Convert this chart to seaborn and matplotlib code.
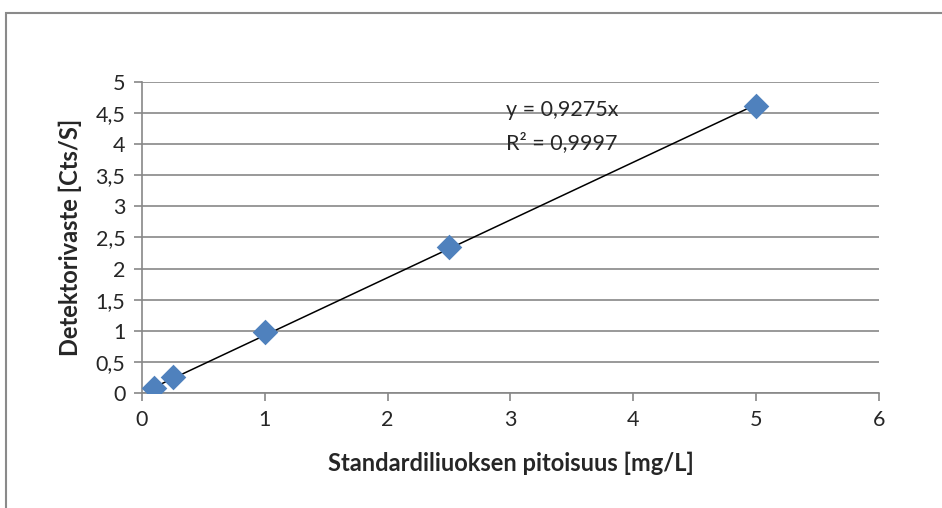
import numpy as np
import pandas as pd
import matplotlib
matplotlib.use("Agg")
import matplotlib.pyplot as plt
import seaborn as sns
from matplotlib.patches import Rectangle
from matplotlib.ticker import FuncFormatter

# Data
conc = [0.1, 0.25, 1.0, 2.5, 5.0]
response = [0.08, 0.26, 0.98, 2.35, 4.62]
slope = 0.9275
r2_text = "R² = 0,9997"
eq_text = "y = 0,9275x"

df = pd.DataFrame({"conc": conc, "response": response})

sns.set_style("white")
plt.rcParams['font.family'] = ['Lato', 'DejaVu Sans']

fig = plt.figure(figsize=(9.42, 5.08), dpi=100)
ax = fig.add_axes([0.1507, 0.2264, 0.7824, 0.6122])

# gridlines
ax.set_axisbelow(True)
ax.yaxis.grid(True, color="#878787", linewidth=1.2)
ax.xaxis.grid(False)

# trendline through origin
xs = np.array([min(conc), max(conc)])
ax.plot(xs, slope * xs, color="black", linewidth=1.1, zorder=2)

sns.scatterplot(data=df, x="conc", y="response", marker="D", s=170,
                color="#4F81BD", edgecolor="#4F81BD", linewidth=0, ax=ax, zorder=3)

ax.text(2.96, 4.55, eq_text, fontsize=15.5, va="center", ha="left")
ax.text(2.96, 4.02, r2_text, fontsize=15.5, va="center", ha="left")

ax.set_xlim(0, 6)
ax.set_ylim(0, 5)
ax.set_xticks(range(0, 7))
ax.set_yticks(np.arange(0, 5.01, 0.5))
fmt = FuncFormatter(lambda v, p: ("%g" % v).replace(".", ","))
ax.xaxis.set_major_formatter(fmt)
ax.yaxis.set_major_formatter(fmt)

for s in ["top", "right"]:
    ax.spines[s].set_visible(False)
for s in ["left", "bottom"]:
    ax.spines[s].set_color("#878787")
    ax.spines[s].set_linewidth(1.2)

ax.tick_params(axis="both", direction="out", length=6, width=1.2, color="#878787",
               labelsize=15.5, pad=6, left=True, bottom=True)

ax.set_xlabel("Standardiliuoksen pitoisuus [mg/L]", fontsize=17, fontweight="bold", labelpad=16)
ax.set_ylabel("Detektorivaste [Cts/S]", fontsize=17, fontweight="bold", labelpad=10)

# outer chart border
fig.patches.append(Rectangle((6 / 942, -0.1), 1.2, 1 - 13 / 508 + 0.1,
                             transform=fig.transFigure, fill=False,
                             edgecolor="#8a8a8a", linewidth=1.5))

fig.savefig("out.png", dpi=100)
